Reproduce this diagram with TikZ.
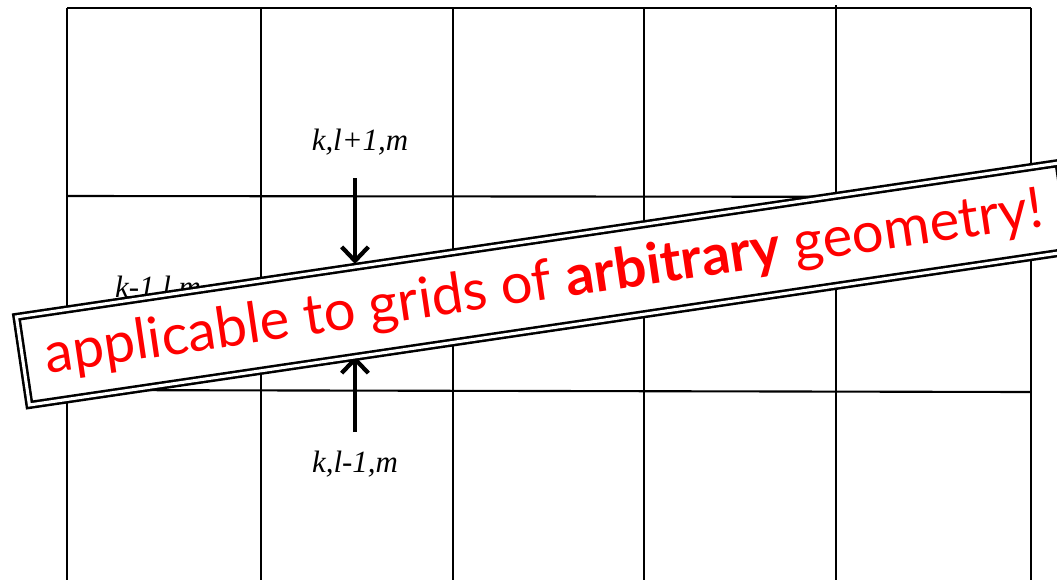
\documentclass[tikz,border=0pt]{standalone}
\usepackage{fontspec}
\setmainfont{Liberation Serif}
\newfontfamily\bannerfont{Lato}
\usetikzlibrary{arrows.meta}
\begin{document}
\begin{tikzpicture}[
    x=0.025cm, y=-0.025cm,
    gridline/.style={line width=1.5pt},
    cell/.style={font=\fontsize{22}{24}\selectfont\itshape, inner sep=0pt, anchor=base},
    pointer/.style={line width=3pt, -{Straight Barb[length=10pt,width=19pt]}},
    banner/.style={draw, line width=1.8pt, double=white, double distance=2.2pt,
      fill=white, rotate=8.4, minimum width=26.33cm, minimum height=2.225cm,
      inner sep=0pt, text=red, font=\bannerfont\fontsize{40}{44}\selectfont},
  ]
    \useasboundingbox (0,0) rectangle (1057,580);
    % grid
    \foreach \x in {67,261,453,644,1031}
      \draw[gridline] (\x,8) -- (\x,580);
    \draw[gridline] (836,5) -- (836,580);
    \draw[gridline] (67,8) -- (1031,8);
    \draw[gridline] (67,196) -- (1031,197);
    \draw[gridline] (67,390) -- (1031,392);
    % neighbour labels
    \node[cell] (above) at (360,150) {k,l+1,m};
    \node[cell] (below) at (355,472) {k,l-1,m};
    \node[cell] (left) at (158,297) {k-1,l,m};
    \coordinate (above tail) at (355,178);
    \coordinate (above head) at (355,264);
    \coordinate (below tail) at (355,432);
    \coordinate (below head) at (355,356);
    \draw[pointer] (above tail) -- (above head);
    \draw[pointer] (below tail) -- (below head);
    % banner
    \node[banner] (note) at (544,284) {applicable to grids of \textbf{arbitrary} geometry!\hspace{6pt}};
  \end{tikzpicture}
\end{document}
